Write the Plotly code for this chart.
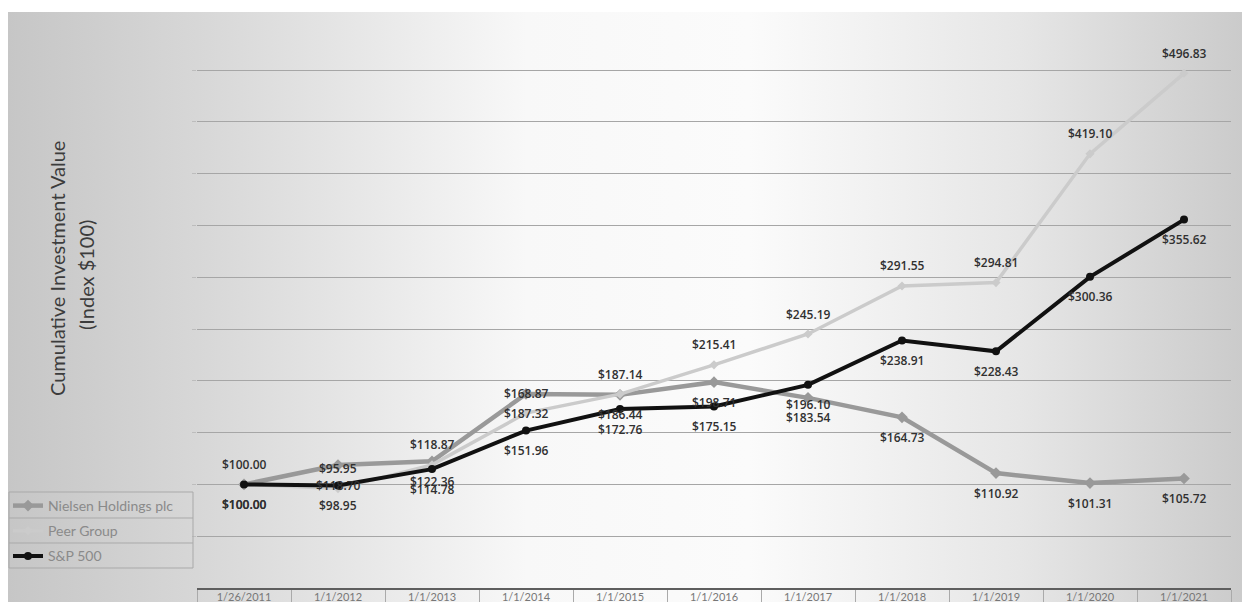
import base64
import plotly.graph_objects as go

# Performance graph: cumulative value of $100 invested
dates = ["1/26/2011", "1/1/2012", "1/1/2013", "1/1/2014", "1/1/2015", "1/1/2016",
         "1/1/2017", "1/1/2018", "1/1/2019", "1/1/2020", "1/1/2021"]
nielsen = [100.00, 118.70, 122.36, 187.32, 186.44, 198.71, 183.54, 164.73, 110.92, 101.31, 105.72]
peer_group = [100.00, 95.95, 118.87, 168.87, 187.14, 215.41, 245.19, 291.55, 294.81, 419.10, 496.83]
sp500 = [100.00, 98.95, 114.78, 151.96, 172.76, 175.15, 196.10, 238.91, 228.43, 300.36, 355.62]

W, H = 1242, 602
Y_MAX = 501
ML, MR, MB = 197, 11, 14
PH_PER_UNIT = 518 / 500
MT = round(H - MB - Y_MAX * PH_PER_UNIT)
PW, PH = W - ML - MR, H - MT - MB


def px_x(px):
    return (px - ML) / PW


def px_y(py):
    return (H - MB - py) / PH


series = [
    dict(name="Nielsen Holdings plc", y=nielsen, color="#999999", width=4.5,
         marker=dict(symbol="diamond", size=9), shift=-20),
    dict(name="Peer Group", y=peer_group, color="#cbcbcb", width=3.5,
         marker=dict(symbol="diamond", size=7), shift=20),
    dict(name="S&P 500", y=sp500, color="#111111", width=4,
         marker=dict(symbol="circle", size=8), shift=-20),
]

label_font = dict(family="Open Sans", size=12, color="#303030", weight=600)

fig = go.Figure()
annotations = []
for i, s in enumerate(series):
    fig.add_trace(go.Scatter(
        x=dates, y=s["y"], name=s["name"], mode="lines+markers",
        line=dict(color=s["color"], width=s["width"]),
        marker=dict(color=s["color"], **s["marker"]),
        legendgroup=f"g{i}",
    ))
    for d, v in zip(dates, s["y"]):
        annotations.append(dict(
            x=d, y=v, xref="x", yref="y", text=f"${v:,.2f}", showarrow=False,
            yshift=s["shift"], font=label_font,
        ))

# y-axis title (two lines)
title_font = dict(family="Lato", size=20, color="#3c3c3c")
annotations.append(dict(x=px_x(43), y=px_y(269), xref="paper", yref="paper",
                        text="Cumulative Investment Value", textangle=-90, showarrow=False,
                        font=title_font))
annotations.append(dict(x=px_x(72), y=px_y(275), xref="paper", yref="paper",
                        text="(Index $100)", textangle=-90, showarrow=False,
                        font=title_font))

# horizontal gradient backdrop
svg = ('<svg xmlns="http://www.w3.org/2000/svg" width="100" height="100" preserveAspectRatio="none">'
       '<defs><linearGradient id="g" x1="0" y1="0" x2="1" y2="0">'
       '<stop offset="0" stop-color="#c6c6c6"/>'
       '<stop offset="0.18" stop-color="#dadada"/>'
       '<stop offset="0.42" stop-color="#f8f8f8"/>'
       '<stop offset="0.6" stop-color="#fbfbfb"/>'
       '<stop offset="0.82" stop-color="#e6e6e6"/>'
       '<stop offset="1" stop-color="#cbcbcb"/>'
       '</linearGradient></defs><rect width="100" height="100" fill="url(#g)"/></svg>')
src = "data:image/svg+xml;base64," + base64.b64encode(svg.encode()).decode()

images = [dict(source=src, xref="paper", yref="paper",
               x=px_x(8), y=px_y(12), sizex=px_x(W) - px_x(8), sizey=px_y(12) - px_y(H),
               xanchor="left", yanchor="top", sizing="stretch", layer="below")]

# legend table outline
box_col = "#a9a9a9"
shapes = [
    dict(type="rect", xref="paper", yref="paper", x0=px_x(9), x1=px_x(193),
         y0=px_y(492), y1=px_y(568), line=dict(color=box_col, width=1)),
    dict(type="line", xref="paper", yref="paper", x0=px_x(9), x1=px_x(193),
         y0=px_y(518), y1=px_y(518), line=dict(color=box_col, width=1)),
    dict(type="line", xref="paper", yref="paper", x0=px_x(9), x1=px_x(193),
         y0=px_y(543), y1=px_y(543), line=dict(color=box_col, width=1)),
]

fig.update_layout(
    width=W, height=H,
    margin=dict(l=ML, r=MR, t=MT, b=MB, autoexpand=False),
    paper_bgcolor="white", plot_bgcolor="rgba(0,0,0,0)",
    showlegend=True,
    legend=dict(x=px_x(8), y=px_y(490), xanchor="left", yanchor="top",
                bgcolor="rgba(0,0,0,0)", borderwidth=0, tracegroupgap=4,
                font=dict(family="Lato", size=14, color="#8a8a8a")),
    annotations=annotations, images=images, shapes=shapes,
    xaxis=dict(type="category", range=[-0.5, 10.5], showgrid=False, automargin=False,
               showline=True, linecolor="#5e5e5e", linewidth=2,
               ticks="outside", tickson="boundaries", ticklen=16, tickcolor="#aaaaaa",
               tickfont=dict(family="Lato", size=11, color="#777777"),
               ticklabelstandoff=-2),
    yaxis=dict(range=[0, Y_MAX], tickvals=list(range(50, 501, 50)), showgrid=True,
               gridcolor="#a6a6a6", gridwidth=1, automargin=False,
               zeroline=False, showticklabels=False, ticks="outside", ticklen=4,
               tickcolor="#bdbdbd"),
)

fig.write_html("out.html")
